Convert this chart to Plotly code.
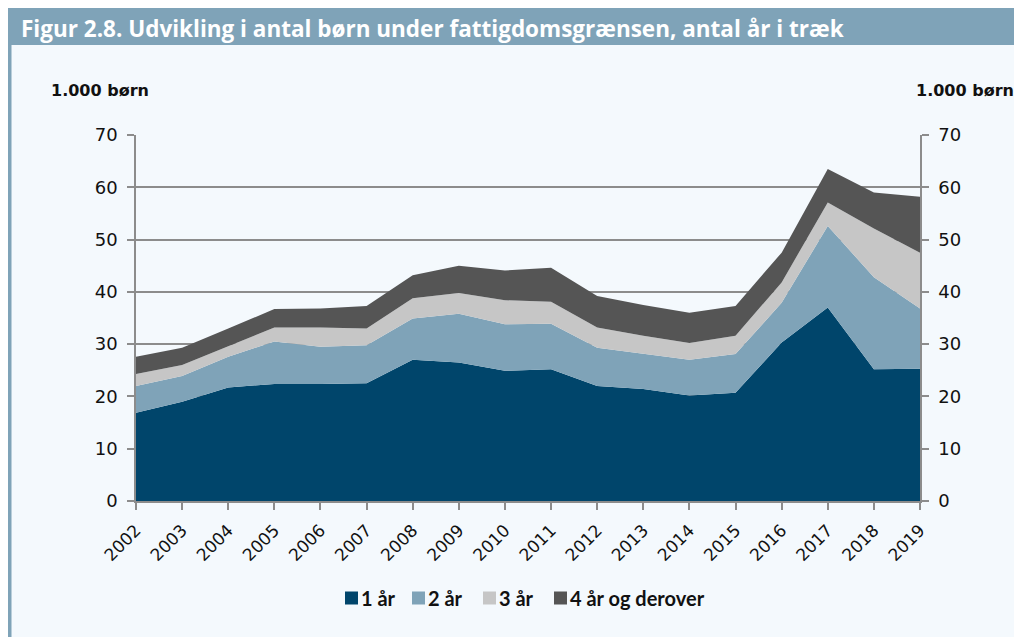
import plotly.graph_objects as go

years = list(range(2002, 2020))
series_names = ["1 år", "2 år", "3 år", "4 år og derover"]
ar1 = [16.9, 19.0, 21.7, 22.4, 22.4, 22.5, 27.0, 26.5, 24.9, 25.2, 22.0, 21.4, 20.2, 20.7, 30.3, 37.0, 25.2, 25.3]
ar2 = [5.1, 4.9, 5.9, 8.1, 7.1, 7.3, 7.9, 9.3, 8.9, 8.7, 7.3, 6.7, 6.8, 7.4, 7.6, 15.6, 17.6, 11.5]
ar3 = [2.3, 2.1, 2.0, 2.7, 3.7, 3.2, 3.9, 4.0, 4.6, 4.2, 3.9, 3.5, 3.2, 3.5, 3.9, 4.5, 9.3, 10.7]
ar4 = [3.3, 3.3, 3.4, 3.5, 3.6, 4.3, 4.4, 5.2, 5.7, 6.5, 6.0, 5.9, 5.8, 5.7, 5.7, 6.4, 6.9, 10.7]
colors = ["#00456B", "#7FA3B8", "#C6C6C6", "#555555"]
y_ticks = [0, 10, 20, 30, 40, 50, 60, 70]

# page offset of the figure (browser body margin), figure size
OFF = 8
W, H = 1014 - OFF, 637 - OFF
# plot area in page pixels
L, R, T, B = 136, 920, 135, 501
pw, ph = R - L, B - T
def px(x):
    return (x - L) / pw
def py(y):
    return (B - y) / ph

fig = go.Figure()
for name, vals, c in zip(series_names, [ar1, ar2, ar3, ar4], colors):
    fig.add_trace(go.Scatter(
        x=years, y=vals, name=name, mode="lines", stackgroup="one",
        line=dict(width=0, color=c), fillcolor=c, hoverinfo="x+y+name",
        showlegend=False))
fig.add_trace(go.Scatter(x=years, y=[None]*len(years), yaxis="y2", showlegend=False,
                         hoverinfo="skip", mode="lines"))

axis_font = dict(family="DejaVu Sans", size=18, color="#111111")
grid = "#8C8C8C"

shapes = [
    dict(type="rect", xref="paper", yref="paper", x0=px(OFF), x1=px(1014), y0=py(637), y1=py(45),
         fillcolor="#F4F9FD", line=dict(width=0), layer="below"),
    dict(type="rect", xref="paper", yref="paper", x0=px(OFF), x1=px(1014), y0=py(45), y1=py(OFF),
         fillcolor="#7FA3B8", line=dict(width=0), layer="below"),
    dict(type="rect", xref="paper", yref="paper", x0=px(OFF), x1=px(11.5), y0=py(637), y1=py(45),
         fillcolor="#7FA3B8", line=dict(width=0), layer="below"),
]
annotations = [
    dict(text="Figur 2.8. Udvikling i antal børn under fattigdomsgrænsen, antal år i træk",
         xref="paper", yref="paper", x=px(19), y=py(28), xanchor="left", yanchor="middle",
         showarrow=False, font=dict(family="Open Sans", size=22.5, color="white", weight=700)),
    dict(text="1.000 børn", xref="paper", yref="paper", x=px(49), y=py(90),
         xanchor="left", yanchor="middle", showarrow=False,
         font=dict(family="DejaVu Sans", size=16, color="#111111", weight=700)),
    dict(text="1.000 børn", xref="paper", yref="paper", x=px(914), y=py(90),
         xanchor="left", yanchor="middle", showarrow=False,
         font=dict(family="DejaVu Sans", size=16, color="#111111", weight=700)),
]

# custom legend: square + label
leg_x = [345, 412, 483, 554]
leg_y = 598
sq = 13
for name, c, lx in zip(series_names, colors, leg_x):
    shapes.append(dict(type="rect", xref="paper", yref="paper",
                       x0=px(lx), x1=px(lx + sq), y0=py(leg_y + sq / 2), y1=py(leg_y - sq / 2),
                       fillcolor=c, line=dict(width=0)))
    annotations.append(dict(text=name, xref="paper", yref="paper", x=px(lx + sq + 1), y=py(leg_y),
                            xanchor="left", yanchor="middle", showarrow=False,
                            font=dict(family="Lato", size=20, color="#111111", weight=700)))

fig.update_layout(
    width=W, height=H,
    margin=dict(l=L - OFF, r=W - (R - OFF), t=T - OFF, b=H - (B - OFF), pad=0),
    paper_bgcolor="white",
    plot_bgcolor="rgba(0,0,0,0)",
    showlegend=False,
    xaxis=dict(range=[2002, 2019], tickmode="array", tickvals=years,
               ticktext=[str(y) for y in years], tickangle=-45,
               ticks="outside", ticklen=7, tickcolor=grid, tickwidth=1.5,
               showline=True, linecolor=grid, linewidth=1.5, showgrid=False,
               zeroline=False, ticklabelstandoff=4,
               tickfont=dict(family="DejaVu Sans", size=17, color="#111111")),
    yaxis=dict(range=[0, 70], tickvals=y_ticks, ticks="outside", ticklen=7,
               tickcolor=grid, tickwidth=1.5, showline=True, linecolor=grid, linewidth=1.5,
               showgrid=True, gridcolor=grid, gridwidth=1.5, zeroline=False,
               ticklabelstandoff=6, tickfont=axis_font),
    yaxis2=dict(range=[0, 70], tickvals=y_ticks, overlaying="y", side="right",
                ticks="outside", ticklen=7, tickcolor=grid, tickwidth=1.5,
                showline=True, linecolor=grid, linewidth=1.5, showgrid=False,
                zeroline=False, ticklabelstandoff=6, tickfont=axis_font),
    shapes=shapes,
    annotations=annotations,
)
fig.write_html("out.html", post_script="document.body.style.margin='8px 0 0 8px';document.body.style.overflow='hidden';")
